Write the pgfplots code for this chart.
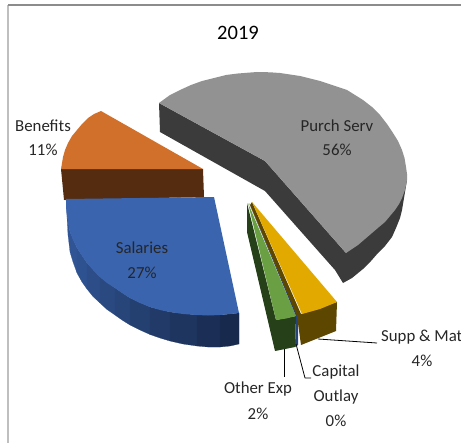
\documentclass[border=0pt]{standalone}
\usepackage{pgfplots}
\pgfplotsset{compat=1.18}
\usepackage{fontspec}
\setmainfont{Carlito}
\definecolor{gtop}{HTML}{929292}
\definecolor{gside}{HTML}{3B3B3B}
\definecolor{otop}{HTML}{D0702A}
\definecolor{oside}{HTML}{552C10}
\definecolor{btop}{HTML}{3A64AE}
\definecolor{ytop}{HTML}{E2AA00}
\definecolor{yside}{HTML}{5C4600}
\definecolor{ntop}{HTML}{6AA043}
\definecolor{nside}{HTML}{26401A}
\definecolor{capb}{HTML}{264478}
\definecolor{txt}{HTML}{262626}
\definecolor{w1}{RGB}{48,84,148}
\definecolor{w2}{RGB}{46,81,143}
\definecolor{w3}{RGB}{44,77,136}
\definecolor{w4}{RGB}{42,73,129}
\definecolor{w5}{RGB}{39,69,121}
\definecolor{w6}{RGB}{36,64,113}
\definecolor{w7}{RGB}{33,58,104}
\definecolor{w8}{RGB}{30,53,95}
\definecolor{w9}{RGB}{27,47,86}
\definecolor{w10}{RGB}{23,41,77}
\begin{document}
\begin{tikzpicture}
\begin{axis}[
  scale only axis, width=461bp, height=443bp,
  xmin=0, xmax=461, ymin=0, ymax=443, y dir=reverse,
  axis lines=none, clip=false,
  every axis plot/.append style={draw=none, line join=round},
  nodes={text=txt, font=\fontsize{16.8bp}{20bp}\selectfont, inner sep=0pt}
]
% frame
\addplot[draw=black!25, line width=1.6bp] coordinates {(8,443) (8,5)};
\addplot[draw=black!45, line width=1.2bp] coordinates {(8,5) (461,5)};
% Purch Serv
\addplot[fill=gside] coordinates {(159,103) (160,132) (265,191) (335,270) (343,283) (352,278) (363,269) (371,261) (378,253) (385,246) (392,237) (396,228) (400,218) (402,210) (404,198) (407,180) (346,253) (265,161)} --cycle;
\addplot[fill=gtop] coordinates {(159,103) (170,95) (180,90) (191,85) (202,81) (214,78) (226,75) (238,73.5) (257,72) (270,72.3) (280,73) (300,76) (320,81) (335,86) (347,90) (355,95) (363,100) (372,107) (380,115) (387,124) (393,133) (398,141) (402,150) (404.5,158) (406,167) (407,174) (407,180) (405,190) (402,198) (399,204) (395,210) (390,216) (385,222) (379,227) (372,233) (365,239) (358,245) (352,249) (346,253) (265,161)} --cycle;
% Benefits
\addplot[fill=oside] coordinates {(61,169) (203,169) (204,197) (64,200)} --cycle;
\addplot[fill=otop] coordinates {(101,111) (203,169) (61,169) (62,163) (63,157) (65,150) (68,143) (72,136) (77,130) (82,124) (88,118) (94,114)} --cycle;
% Salaries wall, stepped shade
\addplot[fill=w1, draw=w1, line width=0.2bp] coordinates {(66,199) (67,215) (70,232) (77,248) (77,273) (73,262) (70,252) (68,235)} --cycle;
\addplot[fill=w2, draw=w2, line width=0.2bp] coordinates {(77,248) (87,263) (87,289) (82,282) (77,273)} --cycle;
\addplot[fill=w3, draw=w3, line width=0.2bp] coordinates {(87,263) (100,277) (100,303) (93,296.5) (87,289)} --cycle;
\addplot[fill=w4, draw=w4, line width=0.2bp] coordinates {(100,277) (115,288) (115,315) (107,309.5) (100,303)} --cycle;
\addplot[fill=w5, draw=w5, line width=0.2bp] coordinates {(115,288) (130,298) (130,325) (122,320) (115,315)} --cycle;
\addplot[fill=w6, draw=w6, line width=0.2bp] coordinates {(130,298) (150,307) (150,334.5) (140,330) (130,325)} --cycle;
\addplot[fill=w7, draw=w7, line width=0.2bp] coordinates {(150,307) (170,312) (170,341) (160,338) (150,334.5)} --cycle;
\addplot[fill=w8, draw=w8, line width=0.2bp] coordinates {(170,312) (197,315) (197,346) (183,344) (170,341)} --cycle;
\addplot[fill=w9, draw=w9, line width=0.2bp] coordinates {(197,315) (220,315) (220,347) (208,347) (197,346)} --cycle;
\addplot[fill=w10, draw=w10, line width=0.2bp] coordinates {(220,315) (239,313) (239,344) (230,346) (220,347)} --cycle;
\addplot[fill=btop] coordinates {(66,199) (214,197) (239,313) (230,314) (220,315) (208,315.5) (197,315) (183,314) (170,312) (160,310) (150,307) (140,303) (130,298) (122,293) (115,288) (107,283) (100,277) (93,270) (87,263) (82,256) (77,248) (73,240) (70,232) (68,223) (67,215) (66,207)} --cycle;
% Other Exp
\addplot[fill=nside] coordinates {(247,203) (247,232) (275,351) (295,347) (296,316) (276,320)} --cycle;
\addplot[fill=ntop] coordinates {(248,203) (296,316) (286,318.5) (276,320)} --cycle;
% Capital Outlay
\addplot[fill=capb] coordinates {(249,203) (298,317) (298,345) (295,347) (296,316)} --cycle;
% Supp & Mat
\addplot[fill=yside] coordinates {(252,202) (250,205) (297,316) (301,345) (336,331) (337,302) (301,314)} --cycle;
\addplot[fill=ytop] coordinates {(252,202) (337,302) (320,309) (302,314)} --cycle;
% leader lines
\addplot[draw=black, line width=0.8bp] coordinates {(318,339) (377,343)};
\addplot[draw=black, line width=0.8bp] coordinates {(296,344) (305,378) (311,378)};
\addplot[draw=black, line width=0.8bp] coordinates {(284,349) (284,377)};
% labels
\node[font=\fontsize{20.5bp}{24bp}\selectfont, text=black] at (axis cs:238,33) {2019};
\node at (axis cs:337,126) {Purch Serv};
\node at (axis cs:337,150) {56\%};
\node at (axis cs:43,126) {Benefits};
\node at (axis cs:43,150) {11\%};
\node at (axis cs:142,248) {Salaries};
\node at (axis cs:142,273) {27\%};
\node[anchor=west] at (axis cs:381,337) {Supp \& Mat};
\node at (axis cs:422,361) {4\%};
\node at (axis cs:336,372) {Capital};
\node at (axis cs:336,397) {Outlay};
\node at (axis cs:336,421) {0\%};
\node at (axis cs:258,389) {Other Exp};
\node at (axis cs:258,414) {2\%};
\end{axis}
\pgfresetboundingbox
\path[use as bounding box] (0,0) rectangle (461bp,443bp);
\end{tikzpicture}
\end{document}
